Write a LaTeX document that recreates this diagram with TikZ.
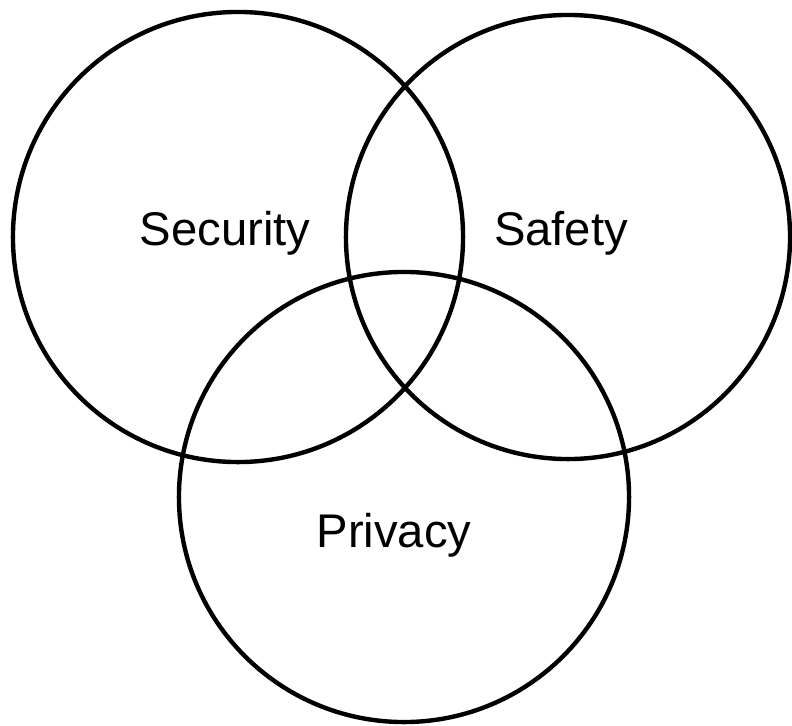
\documentclass[tikz,border=0pt]{standalone}
\usepackage{fontspec}
\setmainfont{Liberation Sans}
\tikzset{
  ring/.style={draw, circle, line width=0.11cm, inner sep=0pt},
  area/.style={font=\fontsize{33.6}{40}\selectfont, anchor=base, inner sep=0pt}
}
\begin{document}
\begin{tikzpicture}[x=0.025cm, y=-0.025cm]
    \useasboundingbox (0,0) rectangle (792,726);

    % Draw the three circles
    \node[ring, minimum size=11.25cm] (security) at (238,237) {};
    \node[ring, minimum size=11.1cm] (safety) at (568,237) {};
    \node[ring, minimum size=11.25cm] (privacy) at (404,497) {};

    % Label each circle
    \node[area] (securitylabel) at (225,245) {Security};
    \node[area] (safetylabel) at (561,245) {Safety};
    \node[area] (privacylabel) at (394,547) {Privacy};

\end{tikzpicture}
\end{document}
